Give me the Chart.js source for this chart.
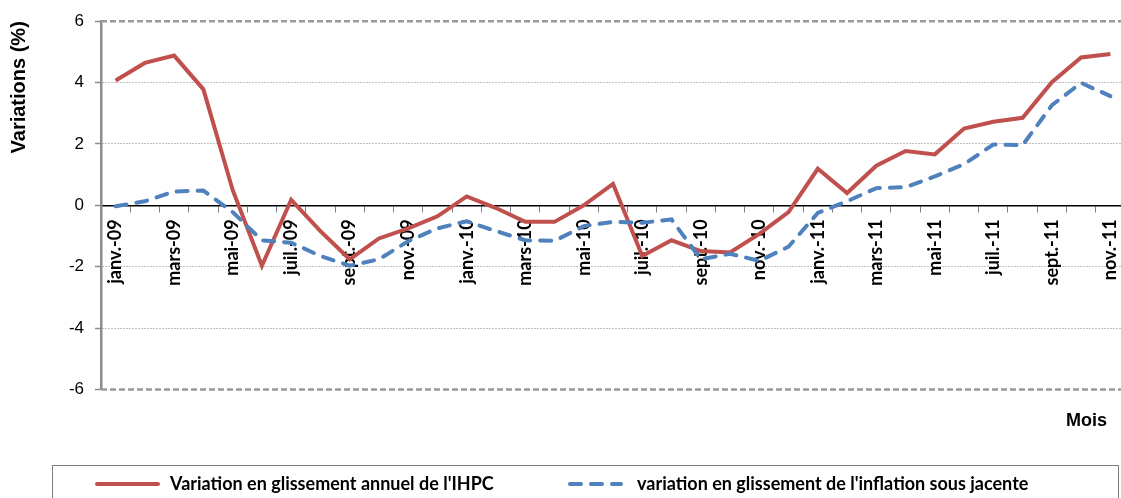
<!DOCTYPE html>
<html lang="fr">
<head>
<meta charset="utf-8">
<title>Variations IHPC</title>
<style>
  html, body { margin: 0; background: #fff; overflow: hidden; }
  #wrap { width: 1125px; height: 498px; position: relative; }
</style>
</head>
<body>
<div id="wrap"><canvas id="myChart"></canvas></div>

<script src="https://cdn.jsdelivr.net/npm/chart.js"></script>
<script>
// mois (un label sur deux est affiché sur l'axe)
const months = [
	'janv.-09', 'févr.-09', 'mars-09', 'avr.-09', 'mai-09', 'juin-09', 'juil.-09', 'août-09', 'sept.-09', 'oct.-09', 'nov.-09', 'déc.-09',
	'janv.-10', 'févr.-10', 'mars-10', 'avr.-10', 'mai-10', 'juin-10', 'juil.-10', 'août-10', 'sept.-10', 'oct.-10', 'nov.-10', 'déc.-10',
	'janv.-11', 'févr.-11', 'mars-11', 'avr.-11', 'mai-11', 'juin-11', 'juil.-11', 'août-11', 'sept.-11', 'oct.-11', 'nov.-11'
];

const ihpc = [
	4.07, 4.64, 4.88, 3.78, 0.50, -1.97, 0.18, -0.84, -1.76, -1.08, -0.75, -0.36,
	0.29, -0.09, -0.54, -0.54, 0.00, 0.70, -1.65, -1.14, -1.49, -1.54, -0.93, -0.22,
	1.19, 0.40, 1.29, 1.77, 1.66, 2.50, 2.72, 2.85, 4.01, 4.82, 4.93
];

const sousJacente = [
	-0.03, 0.13, 0.45, 0.48, -0.22, -1.14, -1.22, -1.65, -1.97, -1.76, -1.17, -0.75,
	-0.52, -0.84, -1.14, -1.16, -0.68, -0.54, -0.57, -0.46, -1.76, -1.58, -1.81, -1.35,
	-0.25, 0.13, 0.56, 0.59, 0.94, 1.34, 1.98, 1.96, 3.26, 3.99, 3.56
];

const seriesNames = [
	"Variation en glissement annuel de l'IHPC",
	"variation en glissement de l'inflation sous jacente"
];

const yTicks = [-6, -4, -2, 0, 2, 4, 6];

// lignes pointillées haut / bas de la zone de tracé
const frameLines = {
	id: 'frameLines',
	beforeDatasetsDraw(chart) {
		const c = chart.ctx, a = chart.chartArea;
		c.save();
		c.strokeStyle = '#9a9a9a';
		c.lineWidth = 2.5;
		c.setLineDash([6, 3]);
		[a.top, a.bottom].forEach(function(y) {
			c.beginPath();
			c.moveTo(a.left, y);
			c.lineTo(chart.width, y);
			c.stroke();
		});
		c.restore();
	}
};

// légende encadrée en bas
const boxLegend = {
	id: 'boxLegend',
	afterLayout(chart) {
		chart.titleBlock.right = 1107;
	},
	afterDraw(chart) {
		const c = chart.ctx;
		const top = chart.height - 33;
		const y = top + 19;
		const slots = [[97, 158, 170], [570, 621, 637]];  // début trait, fin trait, début texte
		c.save();
		c.strokeStyle = '#7f7f7f';
		c.lineWidth = 1;
		c.strokeRect(52.5, top + 0.5, 1066, 60);
		c.font = 'bold 18px Lato';
		c.textBaseline = 'middle';
		c.fillStyle = '#000';
		chart.data.datasets.forEach(function(ds, i) {
			var s = slots[i];
			c.beginPath();
			c.strokeStyle = ds.borderColor;
			c.lineWidth = ds.borderWidth;
			c.lineCap = 'round';
			c.setLineDash(ds.borderDash || []);
			c.moveTo(s[0], y);
			c.lineTo(s[1], y);
			c.stroke();
			c.setLineDash([]);
			c.fillText(ds.label, s[2], y);
		});
		c.restore();
	}
};

const ctx = document.getElementById('myChart').getContext('2d');

const myChart = new Chart(ctx, {
	type: 'line',
	data: {
		labels: months,
		datasets: [{
			label: seriesNames[0],
			data: ihpc,
			borderColor: '#C0504D',
			backgroundColor: '#C0504D',
			borderWidth: 4,
			pointRadius: 0,
			tension: 0,
			order: 2
		}, {
			label: seriesNames[1],
			data: sousJacente,
			borderColor: '#4F81BD',
			backgroundColor: '#4F81BD',
			borderWidth: 4,
			borderDash: [11, 10],
			borderCapStyle: 'round',
			pointRadius: 0,
			tension: 0,
			order: 1
		}]
	},
	options: {
		responsive: true,
		maintainAspectRatio: false,
		animation: false,
		layout: {
			padding: { left: 7, top: 18, right: 0, bottom: 56 }
		},
		plugins: {
			legend: { display: false },
			tooltip: { enabled: false },
			title: {
				display: true,
				text: 'Mois',
				position: 'bottom',
				align: 'end',
				weight: 500,
				color: '#000',
				font: { family: 'Liberation Sans', size: 18, weight: 'bold' },
				padding: { top: 21, bottom: 10 }
			}
		},
		scales: {
			x: {
				position: { y: 0 },
				offset: true,
				afterFit: function(scale) {
					scale.paddingLeft = 0;
					scale.paddingRight = 0;
				},
				grid: {
					offset: true,
					drawOnChartArea: false,
					drawTicks: true,
					tickLength: 6,
					tickColor: '#7f7f7f',
					tickWidth: 1
				},
				border: { display: true, color: '#000', width: 1.5 },
				ticks: {
					autoSkip: false,
					minRotation: 90,
					maxRotation: 90,
					padding: 8,
					color: '#000',
					font: { family: 'Lato', size: 18, weight: 'bold' },
					callback: function(v, i) {
						return i % 2 === 0 ? months[i] : '';
					}
				}
			},
			y: {
				min: yTicks[0],
				max: yTicks[yTicks.length - 1],
				afterBuildTicks: function(scale) {
					scale.ticks = yTicks.map(function(v) { return { value: v }; });
				},
				afterFit: function(scale) {
					scale.width = 94;
				},
				grid: {
					color: function(c) {
						var v = c.tick ? c.tick.value : 1;
						return (v === 0 || Math.abs(v) === 6) ? 'rgba(0,0,0,0)' : '#808080';
					},
					lineWidth: 1,
					drawTicks: true,
					tickLength: 6,
					tickColor: '#8c8c8c',
					tickWidth: 1.5
				},
				border: { display: true, color: '#8c8c8c', width: 2.5, dash: [1, 2] },
				ticks: {
					padding: 11,
					color: '#000',
					font: { family: 'Liberation Sans', size: 17 }
				},
				title: {
					display: true,
					text: 'Variations (%)',
					align: 'end',
					color: '#000',
					font: { family: 'Liberation Sans', size: 20, weight: 'bold' },
					padding: { top: 0, bottom: 0 }
				}
			}
		}
	},
	plugins: [frameLines, boxLegend]
});
</script>
</body>
</html>
